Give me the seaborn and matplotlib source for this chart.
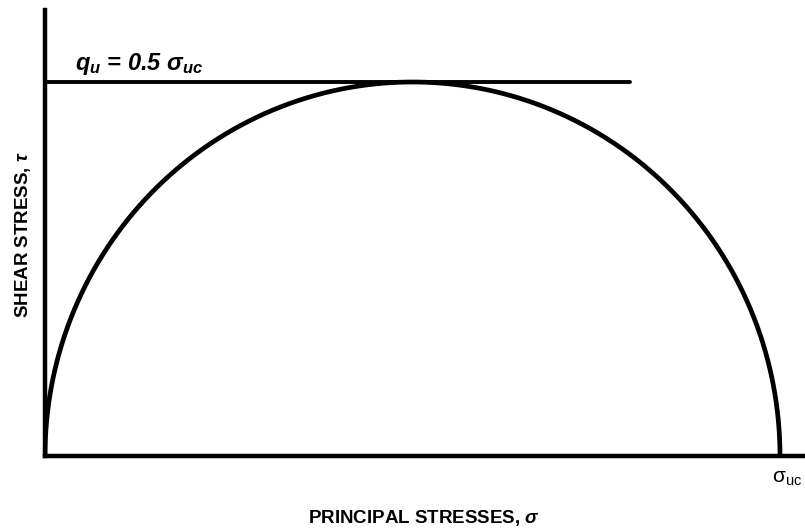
import numpy as np
import pandas as pd
import matplotlib
matplotlib.use("Agg")
import matplotlib.pyplot as plt
import seaborn as sns

# Data (normalized: sigma_uc = 1)
sigma_uc = 1.0
q_u = 0.5 * sigma_uc
line_x_end = 0.796  # extent of q_u line along sigma axis

sns.set_style("white")
plt.rcParams['font.family'] = ['Liberation Sans', 'DejaVu Sans']
plt.rcParams['text.color'] = 'black'
plt.rcParams['mathtext.fontset'] = 'custom'
plt.rcParams['mathtext.it'] = 'Liberation Sans:italic:bold'
plt.rcParams['mathtext.rm'] = 'Liberation Sans'
plt.rcParams['mathtext.bf'] = 'Liberation Sans:bold'

W, H = 805, 532
fig = plt.figure(figsize=(W / 100, H / 100), dpi=100)
ax = fig.add_axes([45 / W, (H - 456) / H, 760 / W, 446 / H])

# Mohr circle (upper half)
center = sigma_uc / 2
radius = sigma_uc / 2
theta = np.linspace(np.pi, 0, 400)
circle = pd.DataFrame({"sigma": center + radius * np.cos(theta),
                       "tau": radius * np.sin(theta)})
sns.lineplot(data=circle, x="sigma", y="tau", sort=False, color="black", lw=3.4, ax=ax)

qline = pd.DataFrame({"sigma": [0, line_x_end], "tau": [q_u, q_u]})
sns.lineplot(data=qline, x="sigma", y="tau", color="black", lw=2.8, ax=ax)

ax.set_xlim(0, 760 / 735 * sigma_uc)
ax.set_ylim(0, q_u * 446 / 374)
ax.set_xticks([])
ax.set_yticks([])
ax.set_xlabel("")
ax.set_ylabel("")
for s in ["top", "right"]:
    ax.spines[s].set_visible(False)
for s in ["left", "bottom"]:
    ax.spines[s].set_linewidth(3.2)
    ax.spines[s].set_color("black")

fig.text(75 / W, 1 - 70 / H, r"$q_u$ = 0.5 $\sigma_{uc}$", fontsize=17,
         fontweight="bold", fontstyle="italic", va="baseline", ha="left", color="black")
fig.text(787 / W, 1 - 478 / H, r"$\mathrm{\sigma_{uc}}$", fontsize=15,
         va="center", ha="center", color="black")
fig.text(424 / W, 1 - 518 / H, r"PRINCIPAL STRESSES, $\sigma$", fontsize=13.5,
         fontweight="bold", va="center", ha="center", color="black")
fig.text(23 / W, 1 - 235 / H, r"SHEAR STRESS, $\tau$", fontsize=13.5,
         fontweight="bold", va="center", ha="center", rotation=90, color="black")

fig.savefig("out.png", dpi=100)
